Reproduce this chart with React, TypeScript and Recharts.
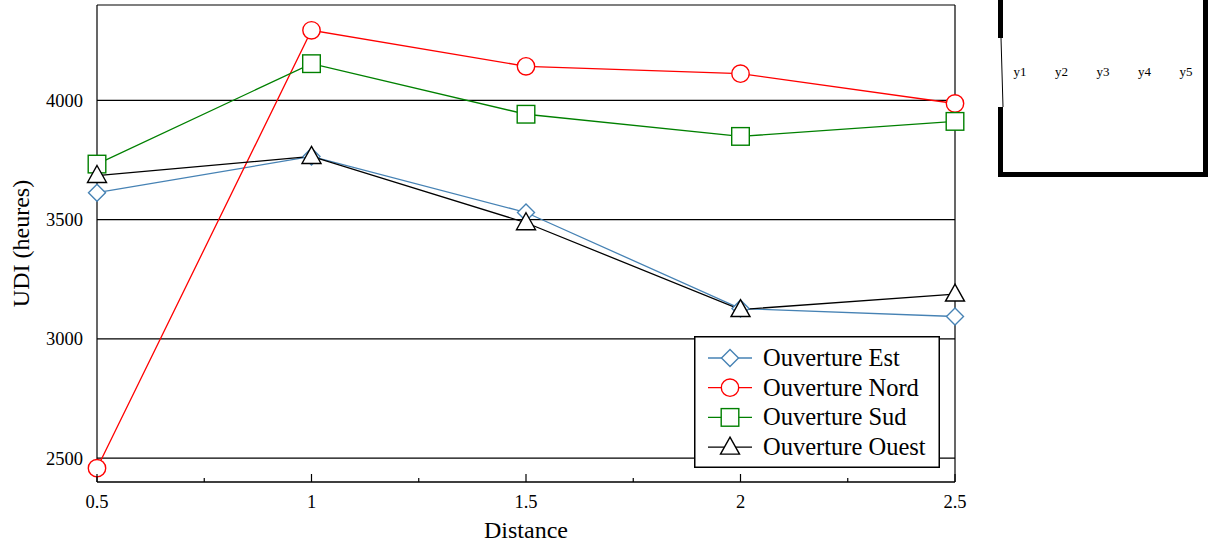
import { LineChart, Line, XAxis, YAxis, CartesianGrid, Legend, ReferenceLine } from 'recharts';

const distance = [0.5, 1, 1.5, 2, 2.5];
const est = [3613, 3765, 3530, 3127, 3094];
const nord = [2458, 4294, 4143, 4112, 3987];
const sud = [3733, 4154, 3942, 3849, 3912];
const ouest = [3685, 3765, 3487, 3123, 3188];

const xDomain = [0.5, 2.5];
const xTicks = [0.5, 0.75, 1, 1.25, 1.5, 1.75, 2, 2.25, 2.5];
const xMajor = [0.5, 1, 1.5, 2, 2.5];
const yTicks = [2500, 3000, 3500, 4000];
const yDomain = [2400, 4400];
const boxLabels = ['y1', 'y2', 'y3', 'y4', 'y5'];

const data = distance.map((d, i) => ({
  distance: d,
  est: est[i],
  nord: nord[i],
  sud: sud[i],
  ouest: ouest[i],
}));

const series = [
  { key: 'est', name: 'Ouverture Est', color: '#4682b4', shape: 'diamond' },
  { key: 'nord', name: 'Ouverture Nord', color: '#ff0000', shape: 'circle' },
  { key: 'sud', name: 'Ouverture Sud', color: '#008000', shape: 'square' },
  { key: 'ouest', name: 'Ouverture Ouest', color: '#000000', shape: 'triangle' },
];

const FONT = '"Liberation Serif", "DejaVu Serif", serif';

function Marker({ shape, cx, cy, color }: any) {
  if (cx == null || cy == null) return null;
  const common = { fill: '#fff', stroke: color, strokeWidth: 1.4 };
  if (shape === 'diamond') {
    return <polygon {...common} points={`${cx},${cy - 8.5} ${cx + 8.5},${cy} ${cx},${cy + 8.5} ${cx - 8.5},${cy}`} />;
  }
  if (shape === 'circle') {
    return <circle {...common} cx={cx} cy={cy} r={8.7} />;
  }
  if (shape === 'square') {
    return <rect {...common} x={cx - 8.8} y={cy - 8.8} width={17.6} height={17.6} />;
  }
  return <polygon {...common} points={`${cx},${cy - 10} ${cx + 9.5},${cy + 7} ${cx - 9.5},${cy + 7}`} />;
}

function BottomTick({ x, y, payload }: any) {
  const major = xMajor.includes(payload.value);
  return (
    <g>
      <line x1={x} y1={y} x2={x} y2={y - (major ? 8 : 4)} stroke="#000" strokeWidth={1.2} />
      {major && (
        <text x={x} y={y + 26} textAnchor="middle" fontFamily={FONT} fontSize={18.5} fill="#000">
          {payload.value}
        </text>
      )}
    </g>
  );
}

function TopTick({ x, y, payload }: any) {
  const major = xMajor.includes(payload.value);
  return <line x1={x} y1={y} x2={x} y2={y + (major ? 8 : 4)} stroke="#000" strokeWidth={1.2} />;
}

function LegendBox() {
  return (
    <svg width={246} height={132} style={{ display: 'block' }}>
      <rect x={0.75} y={0.75} width={244.5} height={130.5} fill="#fff" stroke="#000" strokeWidth={1.5} />
      {series.map((s, i) => {
        const cy = 22 + i * 29.7;
        return (
          <g key={s.key}>
            <line x1={14} y1={cy} x2={58} y2={cy} stroke={s.color} strokeWidth={1.3} />
            <Marker shape={s.shape} cx={36} cy={cy} color={s.color} />
            <text x={69} y={cy + 8} fontFamily={FONT} fontSize={24.5} fill="#000">
              {s.name}
            </text>
          </g>
        );
      })}
    </svg>
  );
}

function KeyBox() {
  return (
    <svg width={230} height={190} style={{ position: 'absolute', left: 990, top: 0 }}>
      <line x1={10.5} y1={0} x2={10.5} y2={38} stroke="#000" strokeWidth={5} />
      <line x1={11} y1={38} x2={13} y2={107} stroke="#000" strokeWidth={1} />
      <line x1={10.5} y1={107} x2={10.5} y2={177} stroke="#000" strokeWidth={5} />
      <line x1={12} y1={174.5} x2={218} y2={174.5} stroke="#000" strokeWidth={5} />
      <line x1={215.5} y1={0} x2={215.5} y2={177} stroke="#000" strokeWidth={5} />
      {boxLabels.map((t, i) => (
        <text key={t} x={30 + i * 41.5} y={76} textAnchor="middle" fontFamily={FONT} fontSize={13} fill="#000">
          {t}
        </text>
      ))}
    </svg>
  );
}

export default function App() {
  return (
    <div style={{ position: 'absolute', left: 0, top: 0, width: 1219, height: 544, background: '#fff', fontFamily: FONT }}>
      <LineChart width={1219} height={544} data={data} margin={{ top: 5, right: 264, bottom: 0, left: 0 }}>
        <CartesianGrid vertical={false} stroke="#000" strokeWidth={1.2} />
        <XAxis
          dataKey="distance"
          type="number"
          domain={xDomain}
          ticks={xTicks}
          interval={0}
          height={62}
          tickSize={0}
          tickMargin={0}
          tickLine={false}
          tick={<BottomTick />}
          axisLine={{ stroke: '#000', strokeWidth: 1.2 }}
          label={{
            content: (p: any) => {
              const vb = p.viewBox;
              return (
                <text x={vb.x + vb.width / 2} y={vb.y + 56} textAnchor="middle" fontFamily={FONT} fontSize={24} fill="#000">
                  Distance
                </text>
              );
            },
          }}
        />
        <XAxis
          xAxisId="top"
          orientation="top"
          dataKey="distance"
          type="number"
          domain={xDomain}
          ticks={xTicks}
          interval={0}
          height={0}
          tickSize={0}
          tickMargin={0}
          tickLine={false}
          tick={<TopTick />}
          axisLine={{ stroke: '#000', strokeWidth: 1.2 }}
        />
        <YAxis
          type="number"
          domain={yDomain}
          ticks={yTicks}
          interval={0}
          width={97}
          tickLine={false}
          tickMargin={8}
          tick={{ fontFamily: FONT, fontSize: 18.5, fill: '#000' }}
          axisLine={{ stroke: '#000', strokeWidth: 1.2 }}
          label={{
            content: (p: any) => {
              const vb = p.viewBox;
              const cx = 21;
              const cy = vb.y + vb.height / 2;
              return (
                <text
                  x={cx}
                  y={cy}
                  transform={`rotate(-90 ${cx} ${cy})`}
                  textAnchor="middle"
                  dominantBaseline="central"
                  fontFamily={FONT}
                  fontSize={24}
                  fill="#000"
                >
                  UDI (heures)
                </text>
              );
            },
          }}
        />
        <ReferenceLine x={xDomain[1]} stroke="#000" strokeWidth={1.2} />
        <Legend
          layout="vertical"
          align="center"
          verticalAlign="middle"
          wrapperStyle={{ position: 'absolute', left: 694, top: 336, width: 246, height: 132 }}
          content={() => <LegendBox />}
        />
        {series.map((s) => (
          <Line
            key={s.key}
            dataKey={s.key}
            name={s.name}
            stroke={s.color}
            strokeWidth={1.3}
            isAnimationActive={false}
            dot={(p: any) => <Marker key={`${s.key}-${p.index}`} shape={s.shape} cx={p.cx} cy={p.cy} color={s.color} />}
            activeDot={false}
          />
        ))}
      </LineChart>
      <KeyBox />
    </div>
  );
}
